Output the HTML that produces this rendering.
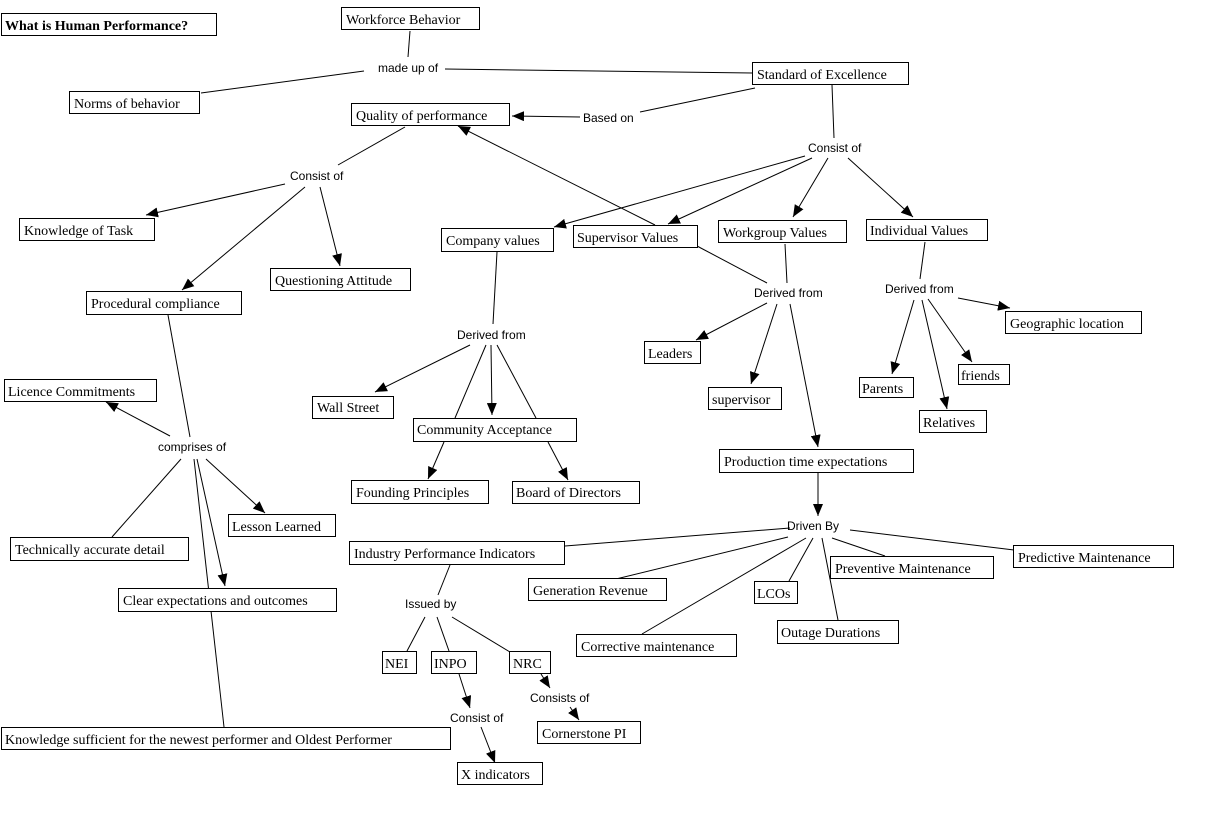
<!DOCTYPE html>
<html><head><meta charset="utf-8"><style>
html,body{margin:0;padding:0;background:#fff}
svg{display:block}
.b{fill:#fff;stroke:#000;stroke-width:1}
.t{font-family:"Liberation Serif",serif;font-size:14px;fill:#000}
.l{font-family:"Liberation Sans",sans-serif;font-size:12px;fill:#000}
line{stroke:#000;stroke-width:1}
</style></head><body>
<svg width="1215" height="825" viewBox="0 0 1215 825" xmlns="http://www.w3.org/2000/svg">
<defs><marker id="a" markerWidth="12" markerHeight="10" refX="12" refY="5" orient="auto" markerUnits="userSpaceOnUse"><path d="M0,0 L12,5 L0,10 z" fill="#000"/></marker></defs>
<g>
<line x1="410" y1="31" x2="408" y2="57"/>
<line x1="364" y1="71" x2="201" y2="93"/>
<line x1="445" y1="69" x2="752" y2="73"/>
<line x1="755" y1="88" x2="640" y2="112"/>
<line x1="580" y1="117" x2="512" y2="116" marker-end="url(#a)"/>
<line x1="832" y1="85" x2="834" y2="138"/>
<line x1="805" y1="156" x2="554" y2="227" marker-end="url(#a)"/>
<line x1="812" y1="158" x2="668" y2="224" marker-end="url(#a)"/>
<line x1="828" y1="158" x2="793" y2="217" marker-end="url(#a)"/>
<line x1="848" y1="158" x2="913" y2="217" marker-end="url(#a)"/>
<line x1="655" y1="225" x2="458" y2="126" marker-end="url(#a)"/>
<line x1="405" y1="127" x2="338" y2="165"/>
<line x1="285" y1="184" x2="146" y2="215" marker-end="url(#a)"/>
<line x1="305" y1="187" x2="182" y2="290" marker-end="url(#a)"/>
<line x1="320" y1="187" x2="340" y2="266" marker-end="url(#a)"/>
<line x1="697" y1="246" x2="767" y2="283"/>
<line x1="785" y1="244" x2="787" y2="283"/>
<line x1="767" y1="303" x2="696" y2="340" marker-end="url(#a)"/>
<line x1="777" y1="304" x2="751" y2="384" marker-end="url(#a)"/>
<line x1="790" y1="304" x2="818" y2="447" marker-end="url(#a)"/>
<line x1="925" y1="242" x2="920" y2="279"/>
<line x1="914" y1="300" x2="892" y2="374" marker-end="url(#a)"/>
<line x1="922" y1="300" x2="947" y2="409" marker-end="url(#a)"/>
<line x1="928" y1="299" x2="972" y2="362" marker-end="url(#a)"/>
<line x1="958" y1="298" x2="1010" y2="308" marker-end="url(#a)"/>
<line x1="497" y1="252" x2="493" y2="324"/>
<line x1="470" y1="345" x2="375" y2="392" marker-end="url(#a)"/>
<line x1="491" y1="345" x2="492" y2="415" marker-end="url(#a)"/>
<line x1="486" y1="345" x2="455" y2="418"/>
<line x1="497" y1="345" x2="536" y2="418"/>
<line x1="444" y1="442" x2="428" y2="479" marker-end="url(#a)"/>
<line x1="548" y1="442" x2="568" y2="480" marker-end="url(#a)"/>
<line x1="168" y1="315" x2="190" y2="437"/>
<line x1="170" y1="436" x2="106" y2="402" marker-end="url(#a)"/>
<line x1="181" y1="459" x2="112" y2="537"/>
<line x1="206" y1="459" x2="265" y2="513" marker-end="url(#a)"/>
<line x1="197" y1="459" x2="225" y2="586" marker-end="url(#a)"/>
<line x1="194" y1="459" x2="224" y2="727"/>
<line x1="818" y1="473" x2="818" y2="516" marker-end="url(#a)"/>
<line x1="790" y1="528" x2="565" y2="546"/>
<line x1="788" y1="537" x2="616" y2="579"/>
<line x1="806" y1="538" x2="642" y2="634"/>
<line x1="813" y1="538" x2="789" y2="581"/>
<line x1="822" y1="538" x2="838" y2="620"/>
<line x1="832" y1="538" x2="885" y2="556"/>
<line x1="850" y1="530" x2="1014" y2="550"/>
<line x1="450" y1="565" x2="438" y2="595"/>
<line x1="425" y1="617" x2="407" y2="651"/>
<line x1="437" y1="617" x2="449" y2="651"/>
<line x1="452" y1="617" x2="510" y2="652"/>
<line x1="459" y1="674" x2="470" y2="708" marker-end="url(#a)"/>
<line x1="541" y1="674" x2="550" y2="688" marker-end="url(#a)"/>
<line x1="570" y1="707" x2="579" y2="720" marker-end="url(#a)"/>
<line x1="481" y1="727" x2="495" y2="763" marker-end="url(#a)"/>
</g>
<g>
<rect class="b" x="1.5" y="13.5" width="215" height="22"/><text class="t" x="5" y="30" font-weight="bold">What is Human Performance?</text>
<rect class="b" x="341.5" y="7.5" width="138" height="22"/><text class="t" x="346" y="24">Workforce Behavior</text>
<rect class="b" x="69.5" y="91.5" width="130" height="22"/><text class="t" x="74" y="108">Norms of behavior</text>
<rect class="b" x="752.5" y="62.5" width="156" height="22"/><text class="t" x="757" y="79">Standard of Excellence</text>
<rect class="b" x="351.5" y="103.5" width="158" height="22"/><text class="t" x="356" y="120">Quality of performance</text>
<rect class="b" x="19.5" y="218.5" width="135" height="22"/><text class="t" x="24" y="235">Knowledge of Task</text>
<rect class="b" x="270.5" y="268.5" width="140" height="22"/><text class="t" x="275" y="285">Questioning Attitude</text>
<rect class="b" x="86.5" y="291.5" width="155" height="23"/><text class="t" x="91" y="308">Procedural compliance</text>
<rect class="b" x="441.5" y="228.5" width="112" height="23"/><text class="t" x="446" y="245">Company values</text>
<rect class="b" x="573.5" y="225.5" width="124" height="22"/><text class="t" x="577" y="242">Supervisor Values</text>
<rect class="b" x="718.5" y="220.5" width="128" height="22"/><text class="t" x="723" y="237">Workgroup Values</text>
<rect class="b" x="866.5" y="219.5" width="121" height="21"/><text class="t" x="870" y="235">Individual Values</text>
<rect class="b" x="1005.5" y="311.5" width="136" height="22"/><text class="t" x="1010" y="328">Geographic location</text>
<rect class="b" x="644.5" y="341.5" width="56" height="22"/><text class="t" x="648" y="358">Leaders</text>
<rect class="b" x="859.5" y="377.5" width="54" height="20"/><text class="t" x="862" y="393">Parents</text>
<rect class="b" x="958.5" y="364.5" width="51" height="20"/><text class="t" x="961" y="380">friends</text>
<rect class="b" x="919.5" y="410.5" width="67" height="22"/><text class="t" x="923" y="427">Relatives</text>
<rect class="b" x="708.5" y="387.5" width="73" height="22"/><text class="t" x="712" y="404">supervisor</text>
<rect class="b" x="4.5" y="379.5" width="152" height="22"/><text class="t" x="8" y="396">Licence Commitments</text>
<rect class="b" x="312.5" y="396.5" width="81" height="22"/><text class="t" x="317" y="412">Wall Street</text>
<rect class="b" x="413.5" y="418.5" width="163" height="23"/><text class="t" x="417" y="434">Community Acceptance</text>
<rect class="b" x="719.5" y="449.5" width="194" height="23"/><text class="t" x="724" y="466">Production time expectations</text>
<rect class="b" x="351.5" y="480.5" width="137" height="23"/><text class="t" x="356" y="497">Founding Principles</text>
<rect class="b" x="512.5" y="481.5" width="127" height="22"/><text class="t" x="516" y="497">Board of Directors</text>
<rect class="b" x="228.5" y="514.5" width="107" height="22"/><text class="t" x="232" y="531">Lesson Learned</text>
<rect class="b" x="10.5" y="537.5" width="178" height="23"/><text class="t" x="15" y="554">Technically accurate detail</text>
<rect class="b" x="349.5" y="541.5" width="215" height="23"/><text class="t" x="354" y="558">Industry Performance Indicators</text>
<rect class="b" x="1013.5" y="545.5" width="160" height="22"/><text class="t" x="1018" y="562">Predictive Maintenance</text>
<rect class="b" x="830.5" y="556.5" width="163" height="22"/><text class="t" x="835" y="573">Preventive Maintenance</text>
<rect class="b" x="528.5" y="578.5" width="138" height="22"/><text class="t" x="533" y="595">Generation Revenue</text>
<rect class="b" x="754.5" y="581.5" width="43" height="22"/><text class="t" x="757" y="598">LCOs</text>
<rect class="b" x="118.5" y="588.5" width="218" height="23"/><text class="t" x="123" y="605">Clear expectations and outcomes</text>
<rect class="b" x="777.5" y="620.5" width="121" height="23"/><text class="t" x="781" y="637">Outage Durations</text>
<rect class="b" x="576.5" y="634.5" width="160" height="22"/><text class="t" x="581" y="651">Corrective maintenance</text>
<rect class="b" x="382.5" y="651.5" width="34" height="22"/><text class="t" x="385" y="668">NEI</text>
<rect class="b" x="431.5" y="651.5" width="45" height="22"/><text class="t" x="434" y="668">INPO</text>
<rect class="b" x="509.5" y="651.5" width="41" height="22"/><text class="t" x="513" y="668">NRC</text>
<rect class="b" x="537.5" y="721.5" width="103" height="22"/><text class="t" x="542" y="738">Cornerstone PI</text>
<rect class="b" x="1.5" y="727.5" width="449" height="22"/><text class="t" x="5" y="744">Knowledge sufficient for the newest performer and Oldest Performer</text>
<rect class="b" x="457.5" y="762.5" width="85" height="22"/><text class="t" x="461" y="779">X indicators</text>
</g>
<g class="l">
<text class="l" x="378" y="72">made up of</text>
<text class="l" x="583" y="122">Based on</text>
<text class="l" x="808" y="152">Consist of</text>
<text class="l" x="290" y="180">Consist of</text>
<text class="l" x="754" y="297">Derived from</text>
<text class="l" x="885" y="293">Derived from</text>
<text class="l" x="457" y="339">Derived from</text>
<text class="l" x="158" y="451">comprises of</text>
<text class="l" x="787" y="530">Driven By</text>
<text class="l" x="405" y="608">Issued by</text>
<text class="l" x="530" y="702">Consists of</text>
<text class="l" x="450" y="722">Consist of</text>
</g>
</svg>
</body></html>
